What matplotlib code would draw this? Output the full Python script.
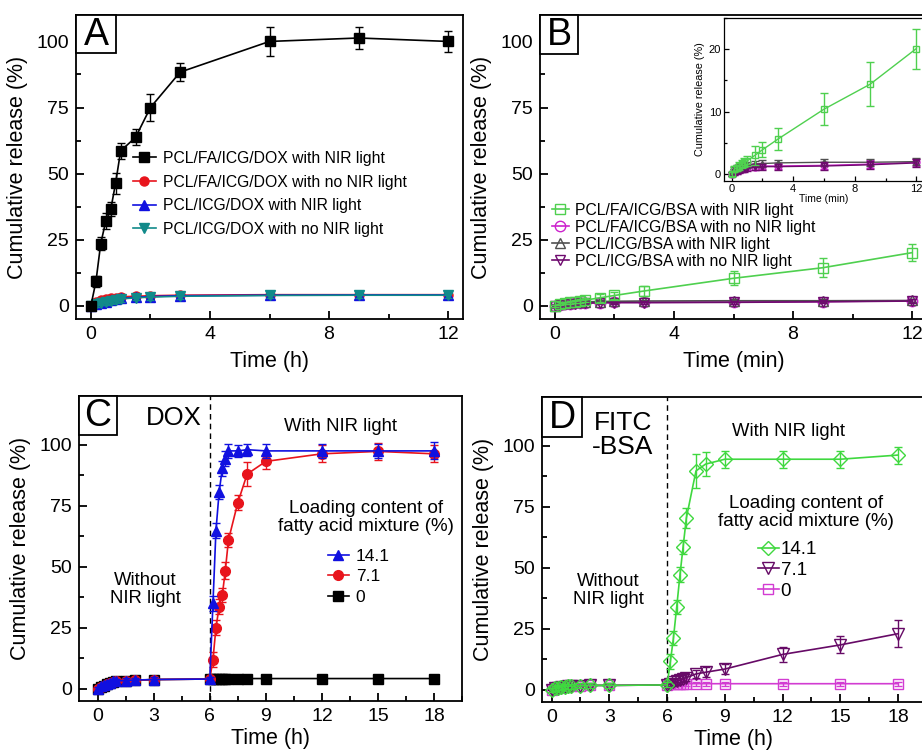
import matplotlib
matplotlib.use("Agg")
import matplotlib.pyplot as plt
from matplotlib.patches import Rectangle
from matplotlib.ticker import MultipleLocator

plt.rcParams['font.family'] = ['Liberation Sans', 'DejaVu Sans']

# ---------------- Panel A data (time in h) ----------------
tA = [0, 0.17, 0.33, 0.5, 0.67, 0.83, 1, 1.5, 2, 3, 6, 9, 12]
A_fa_nir = [0, 9.2, 23.5, 32, 36.6, 46.4, 58.6, 63.7, 75, 88.4, 100, 101.3, 100]
A_fa_nir_err = [0.5, 2, 2.5, 3, 2.5, 4, 3, 3, 5, 3.5, 5.5, 4, 4]
A_fa_dark = [0, 1.5, 2.0, 2.4, 2.8, 3.1, 3.4, 3.6, 3.8, 4.0, 4.2, 4.2, 4.2]
A_fa_dark_err = [0.5, 0.8, 0.8, 1, 1, 1, 1, 1, 1, 1, 1, 1, 1]
A_icg_nir = [0, 0.8, 1.2, 1.6, 2.0, 2.4, 2.8, 3.2, 3.5, 3.8, 4.0, 4.1, 4.1]
A_icg_nir_err = [0.5, 0.8, 0.8, 1, 1, 1, 1, 1, 1, 1, 1, 1, 1]
A_icg_dark = [0, 0.5, 1.0, 1.4, 1.8, 2.2, 2.6, 3.0, 3.3, 3.6, 3.9, 4.0, 4.0]
A_icg_dark_err = [0.5, 0.8, 0.8, 1, 1, 1, 1, 1, 1, 1, 1, 1, 1]
A_labels = ['PCL/FA/ICG/DOX with NIR light', 'PCL/FA/ICG/DOX with no NIR light',
            'PCL/ICG/DOX with NIR light', 'PCL/ICG/DOX with no NIR light']

# ---------------- Panel B data (time in min) ----------------
tB = [0, 0.17, 0.33, 0.5, 0.67, 0.83, 1, 1.5, 2, 3, 6, 9, 12]
B_fa_nir = [0, 0.8, 1.0, 1.3, 1.6, 1.9, 2.1, 3.0, 3.9, 5.6, 10.4, 14.4, 20.1]
B_fa_nir_err = [0.3, 0.5, 0.5, 0.6, 0.6, 0.7, 0.8, 1.5, 1.2, 1.8, 2.6, 3.5, 3.2]
B_fa_dark = [0, 0.4, 0.6, 0.8, 0.9, 1.0, 1.1, 1.2, 1.3, 1.3, 1.4, 1.6, 1.9]
B_fa_dark_err = [0.3, 0.5, 0.5, 0.5, 0.5, 0.5, 0.5, 0.5, 0.5, 0.5, 0.6, 0.6, 0.6]
B_icg_nir = [0, 0.6, 0.9, 1.1, 1.3, 1.4, 1.5, 1.6, 1.7, 1.8, 1.9, 1.9, 2.0]
B_icg_nir_err = [0.3, 0.5, 0.5, 0.5, 0.5, 0.5, 0.5, 0.5, 0.5, 0.5, 0.6, 0.6, 0.6]
B_icg_dark = [0, 0.3, 0.5, 0.7, 0.8, 0.9, 1.0, 1.1, 1.2, 1.2, 1.3, 1.5, 1.8]
B_icg_dark_err = [0.3, 0.5, 0.5, 0.5, 0.5, 0.5, 0.5, 0.5, 0.5, 0.5, 0.6, 0.6, 0.6]
B_labels = ['PCL/FA/ICG/BSA with NIR light', 'PCL/FA/ICG/BSA with no NIR light',
            'PCL/ICG/BSA with NIR light', 'PCL/ICG/BSA with no NIR light']

# ---------------- Panel C data (time in h) ----------------
tC = [0, 0.17, 0.33, 0.5, 0.67, 0.83, 1, 1.5, 2, 3, 6,
      6.17, 6.33, 6.5, 6.67, 6.83, 7, 7.5, 8, 9, 12, 15, 18]
C_141 = [0, 1.0, 1.5, 2.0, 2.5, 3.0, 3.2, 3.4, 3.6, 3.8, 4.0,
         35, 64.8, 80.6, 90.3, 94.3, 97.5, 97.5, 98, 97.5, 97.5, 97.5, 97.5]
C_141_err = [0.8, 1, 1, 1, 1, 1, 1, 1, 1, 1, 1,
             3, 3, 3, 3, 3, 3, 2.5, 2.5, 3, 3, 3, 3.5]
C_71 = [0, 0.8, 1.3, 1.8, 2.3, 2.8, 3.0, 3.3, 3.5, 3.8, 4.0,
        12, 25, 33.6, 38.4, 48.4, 61, 76.3, 88, 93.2, 96.3, 97.3, 96.3]
C_71_err = [0.8, 1, 1, 1, 1, 1, 1, 1, 1, 1, 1,
            3, 3, 3, 3, 3.5, 3, 3, 5, 3, 3.5, 3.5, 3.5]
C_0 = [0, 0.8, 1.3, 1.8, 2.3, 2.8, 3.0, 3.3, 3.5, 3.8, 4.0,
       4.2, 4.2, 4.2, 4.2, 4.2, 4.2, 4.2, 4.2, 4.2, 4.2, 4.2, 4.2]
C_0_err = [0.5] * 23
C_labels = ['14.1', '7.1', '0']

# ---------------- Panel D data (time in h) ----------------
tD = [0, 0.17, 0.33, 0.5, 0.67, 0.83, 1, 1.5, 2, 3, 6,
      6.17, 6.33, 6.5, 6.67, 6.83, 7, 7.5, 8, 9, 12, 15, 18]
D_141 = [0, 0.6, 0.9, 1.1, 1.3, 1.4, 1.5, 1.6, 1.8, 1.8, 2.0,
         11.6, 21.3, 34, 47.2, 58.5, 70.4, 89.7, 92.5, 94.5, 94.5, 94.5, 96.2]
D_141_err = [0.8, 1, 1, 1, 1, 1, 1, 1, 1, 1, 1,
             3, 3, 3, 3, 3, 4, 7, 5, 3.5, 3.5, 3.5, 3.5]
D_71 = [0, 0.6, 0.9, 1.1, 1.3, 1.4, 1.5, 1.6, 1.8, 1.8, 2.0,
        2.5, 3.0, 3.5, 4.0, 4.5, 5.0, 6.5, 7.2, 8.5, 14.5, 18.4, 23]
D_71_err = [0.8, 1, 1, 1, 1, 1, 1, 1, 1, 1, 1,
            1.5, 1.5, 1.5, 1.5, 1.5, 1.5, 1.5, 2, 2, 3, 3.5, 5.5]
D_0 = [0, 0.6, 0.9, 1.1, 1.3, 1.4, 1.5, 1.6, 1.8, 1.8, 2.0,
       2.2, 2.3, 2.4, 2.5, 2.5, 2.5, 2.5, 2.5, 2.5, 2.5, 2.5, 2.5]
D_0_err = [0.8] * 23
D_labels = ['14.1', '7.1', '0']

W, H = 922, 754
fig = plt.figure(figsize=(W / 100, H / 100), dpi=100)


def px_axes(x0, y0, x1, y1):
    return fig.add_axes([x0 / W, 1 - y1 / H, (x1 - x0) / W, (y1 - y0) / H])


def style(ax, fs=14, lw=1.3, ml=6, mnl=3.5):
    for s in ax.spines.values():
        s.set_linewidth(lw)
    ax.tick_params(which='both', direction='in', top=False, right=False,
                   width=lw, labelsize=fs, pad=5)
    ax.tick_params(which='major', length=ml)
    ax.tick_params(which='minor', length=mnl)


def letter(ax, s, wpx, hpx, axw, axh):
    ax.add_patch(Rectangle((0, 1 - hpx / axh), wpx / axw, hpx / axh,
                           transform=ax.transAxes, fc='white', ec='black',
                           lw=1.3, zorder=20, clip_on=False))
    ax.text(wpx / axw / 2, 1 - hpx / axh / 2 - 0.003, s, transform=ax.transAxes,
            ha='center', va='center', fontsize=27, zorder=21)


def series(ax, x, y, e, color, marker, ms, label=None, mfc=None, lw=1.2, z=3):
    c = ax.errorbar(x, y, yerr=e, color=color, marker=marker, ms=ms,
                    mfc=(color if mfc is None else mfc), mec=color, mew=1.0,
                    lw=lw, elinewidth=1.0, capsize=2.8, capthick=1.0,
                    zorder=z)
    line = c[0]
    if label is not None:
        line.set_label(label)
    return line


# ---------------- Panel A ----------------
axA = px_axes(76, 15, 463, 319)
style(axA)
hA = [series(axA, tA, A_fa_nir, A_fa_nir_err, 'black', 's', 6.5, A_labels[0], z=6),
      series(axA, tA, A_fa_dark, A_fa_dark_err, '#e8141c', 'o', 6.5, A_labels[1], z=3),
      series(axA, tA, A_icg_nir, A_icg_nir_err, '#1010e0', '^', 6.5, A_labels[2], z=4),
      series(axA, tA, A_icg_dark, A_icg_dark_err, '#118a8a', 'v', 7, A_labels[3], z=5)]
axA.set_xlim(-0.5, 12.5)
axA.set_ylim(-5, 110)
axA.xaxis.set_major_locator(MultipleLocator(4))
axA.xaxis.set_minor_locator(MultipleLocator(2))
axA.yaxis.set_major_locator(MultipleLocator(25))
axA.yaxis.set_minor_locator(MultipleLocator(12.5))
axA.set_xlabel('Time (h)', fontsize=15.5, labelpad=6)
axA.set_ylabel('Cumulative release (%)', fontsize=15.5, labelpad=6)
axA.legend(handles=hA, loc='upper left', bbox_to_anchor=(0.147, 0.553), frameon=False,
           fontsize=11.3, handlelength=1.45, handletextpad=0.45,
           labelspacing=0.55, borderpad=0, borderaxespad=0)
letter(axA, 'A', 40, 38, 387, 304)

# ---------------- Panel B ----------------
axB = px_axes(540, 15, 927, 319)
style(axB)
hB = [series(axB, tB, B_fa_nir, B_fa_nir_err, '#4fd04f', 's', 7.5, B_labels[0], mfc='none', z=6),
      series(axB, tB, B_fa_dark, B_fa_dark_err, '#cc22cc', 'o', 7.5, B_labels[1], mfc='none', z=3),
      series(axB, tB, B_icg_nir, B_icg_nir_err, '#505050', '^', 7.5, B_labels[2], mfc='none', z=4),
      series(axB, tB, B_icg_dark, B_icg_dark_err, '#6e0a6e', 'v', 7.5, B_labels[3], mfc='none', z=5)]
axB.set_xlim(-0.5, 12.5)
axB.set_ylim(-5, 110)
axB.xaxis.set_major_locator(MultipleLocator(4))
axB.xaxis.set_minor_locator(MultipleLocator(2))
axB.yaxis.set_major_locator(MultipleLocator(25))
axB.yaxis.set_minor_locator(MultipleLocator(12.5))
axB.set_xlabel('Time (min)', fontsize=15.5, labelpad=6)
axB.set_ylabel('Cumulative release (%)', fontsize=15.5, labelpad=6)
axB.legend(handles=hB, loc='upper left', bbox_to_anchor=(0.03, 0.382), frameon=False,
           fontsize=11.3, handlelength=1.1, handletextpad=0.4,
           labelspacing=0.12, borderpad=0, borderaxespad=0)
letter(axB, 'B', 38, 39, 387, 304)

# inset
axI = px_axes(724, 18, 924, 181)
style(axI, fs=8, lw=0.9, ml=3.5, mnl=2)
axI.tick_params(pad=2)
series(axI, tB, B_fa_nir, B_fa_nir_err, '#4fd04f', 's', 5, mfc='none', lw=1.0, z=6)
series(axI, tB, B_fa_dark, B_fa_dark_err, '#cc22cc', 'o', 5, mfc='none', lw=1.0, z=3)
series(axI, tB, B_icg_nir, B_icg_nir_err, '#505050', '^', 5, mfc='none', lw=1.0, z=4)
series(axI, tB, B_icg_dark, B_icg_dark_err, '#6e0a6e', 'v', 5, mfc='none', lw=1.0, z=5)
axI.set_xlim(-0.5, 12.5)
axI.set_ylim(-1.1, 25)
axI.xaxis.set_major_locator(MultipleLocator(4))
axI.xaxis.set_minor_locator(MultipleLocator(2))
axI.yaxis.set_major_locator(MultipleLocator(10))
axI.yaxis.set_minor_locator(MultipleLocator(5))
axI.set_xlabel('Time (min)', fontsize=7.5, labelpad=0)
axI.set_ylabel('Cumulative release (%)', fontsize=7.8, labelpad=3)

# ---------------- Panel C ----------------
axC = px_axes(79, 396, 462, 701)
style(axC)
l0 = series(axC, tC, C_0, C_0_err, 'black', 's', 6.5, C_labels[2], z=3)
l71 = series(axC, tC, C_71, C_71_err, '#e8141c', 'o', 7, C_labels[1], z=4)
l141 = series(axC, tC, C_141, C_141_err, '#1010e0', '^', 7, C_labels[0], z=5)
axC.axvline(6, color='black', ls=(0, (4, 3)), lw=1.0, zorder=2)
axC.set_xlim(-1, 19.5)
axC.set_ylim(-5, 120)
axC.set_xticks([0, 3, 6, 9, 12, 15, 18])
axC.xaxis.set_minor_locator(MultipleLocator(1.5))
axC.set_yticks([0, 25, 50, 75, 100])
axC.yaxis.set_minor_locator(MultipleLocator(12.5))
axC.set_xlabel('Time (h)', fontsize=15.5, labelpad=2)
axC.set_ylabel('Cumulative release (%)', fontsize=15.5, labelpad=6)
axC.legend(handles=[l141, l71, l0], loc='upper left', bbox_to_anchor=(0.65, 0.499),
           frameon=False, fontsize=12.5, handlelength=1.2, handletextpad=0.4,
           labelspacing=0.3, borderpad=0, borderaxespad=0)
axC.text(4.05, 111, 'DOX', fontsize=18.5, ha='center', va='center')
axC.text(13.0, 107.5, 'With NIR light', fontsize=13.3, ha='center', va='center')
axC.text(2.57, 40.6, 'Without\nNIR light', fontsize=13.3, ha='center', va='center',
         linespacing=1.1)
axC.text(14.35, 70.2, 'Loading content of\nfatty acid mixture (%)', fontsize=13.5,
         ha='center', va='center', linespacing=1.1)
letter(axC, 'C', 38, 39, 383, 305)

# ---------------- Panel D ----------------
axD = px_axes(542, 397, 925, 702)
style(axD)
m0 = series(axD, tD, D_0, D_0_err, '#d23cd2', 's', 7, D_labels[2], mfc='none', z=3)
m71 = series(axD, tD, D_71, D_71_err, '#660a66', 'v', 8, D_labels[1], mfc='none', z=4)
m141 = series(axD, tD, D_141, D_141_err, '#3fd83f', 'D', 7, D_labels[0], mfc='none', z=5)
axD.axvline(6, color='black', ls=(0, (4, 3)), lw=1.0, zorder=2)
axD.set_xlim(-0.5, 19.4)
axD.set_ylim(-5, 120)
axD.set_xticks([0, 3, 6, 9, 12, 15, 18])
axD.xaxis.set_minor_locator(MultipleLocator(1.5))
axD.set_yticks([0, 25, 50, 75, 100])
axD.yaxis.set_minor_locator(MultipleLocator(12.5))
axD.set_xlabel('Time (h)', fontsize=15.5, labelpad=2)
axD.set_ylabel('Cumulative release (%)', fontsize=15.5, labelpad=6)
axD.legend(handles=[m141, m71, m0], loc='upper left', bbox_to_anchor=(0.564, 0.528),
           frameon=False, fontsize=13.5, handlelength=1.1, handletextpad=0.1,
           labelspacing=0.2, borderpad=0, borderaxespad=0)
axD.text(3.7, 104.5, 'FITC\n-BSA', fontsize=19, ha='center', va='center',
         linespacing=1.0)
axD.text(12.3, 106, 'With NIR light', fontsize=13.3, ha='center', va='center')
axD.text(2.95, 40.6, 'Without\nNIR light', fontsize=13.3, ha='center', va='center',
         linespacing=1.1)
axD.text(13.2, 72.7, 'Loading content of\nfatty acid mixture (%)', fontsize=13.5,
         ha='center', va='center', linespacing=1.1)
letter(axD, 'D', 40, 40, 383, 305)

fig.savefig('out.png', dpi=100)
